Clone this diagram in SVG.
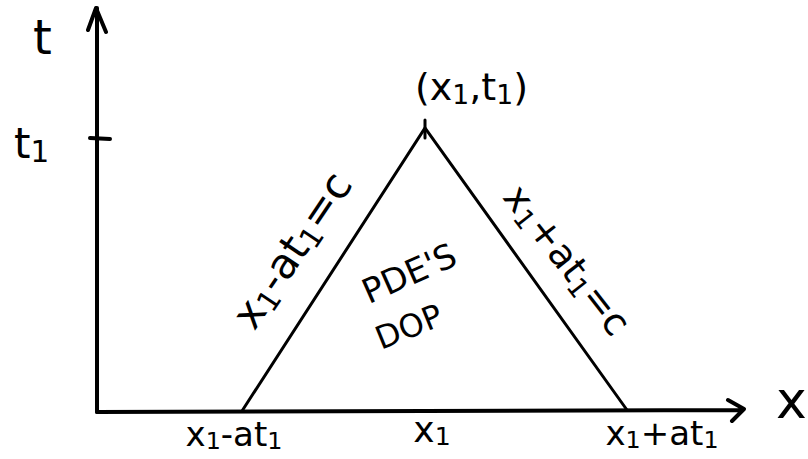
<svg xmlns="http://www.w3.org/2000/svg" width="808" height="459" viewBox="0 0 808 459">
<style>
.ax{stroke:#000;stroke-width:4;fill:none;stroke-linecap:round;stroke-linejoin:round}
.ln{stroke:#000;stroke-width:3;fill:none;stroke-linecap:round}
.tx{font-family:"DejaVu Sans","Liberation Sans",sans-serif;fill:#000}
.sub{font-size:70%}
</style>
<rect width="808" height="459" fill="#fff"/>
<g id="axes">
<path class="ax" d="M97,412 L97,8 M88,30 L96,8 L106,32"/>
<path class="ax" d="M97,412 L742,410 M728,400 L744,409 L732,421"/>
<path class="ax" d="M90,138 L110,139"/>
</g>
<g id="connectors">
<path class="ln" d="M242,411 L425,128 L627,410"/>
<path class="ln" d="M425,120 L425,138"/>
</g>
<g id="labels">
<text class="tx" x="33" y="54" font-size="48">t</text>
<text class="tx" x="14" y="158" font-size="42">t<tspan class="sub" dy="4">1</tspan></text>
<text class="tx" x="415" y="100" font-size="38">(x<tspan class="sub" dy="4">1</tspan><tspan dy="-4">,t</tspan><tspan class="sub" dy="4">1</tspan><tspan dy="-4">)</tspan></text>
<text class="tx" x="776" y="418" font-size="52">x</text>
<text class="tx" font-size="42" text-anchor="middle" transform="translate(304,258) rotate(-56)">x<tspan class="sub" dy="5">1</tspan><tspan dy="-5">-at</tspan><tspan class="sub" dy="5">1</tspan><tspan dy="-5">=c</tspan></text>
<text class="tx" font-size="38" text-anchor="middle" transform="translate(557,268) rotate(52)">x<tspan class="sub" dy="5">1</tspan><tspan dy="-5">+at</tspan><tspan class="sub" dy="5">1</tspan><tspan dy="-5">=c</tspan></text>
<text class="tx" font-size="34" text-anchor="middle" transform="translate(414,284) rotate(-24)">PDE'S</text>
<text class="tx" font-size="32" text-anchor="middle" transform="translate(413,337) rotate(-22)">DOP</text>
<text class="tx" x="234" y="446" font-size="34" text-anchor="middle">x<tspan class="sub" dy="3">1</tspan><tspan dy="-3">-at</tspan><tspan class="sub" dy="3">1</tspan></text>
<text class="tx" x="432" y="442" font-size="36" text-anchor="middle">x<tspan class="sub" dy="3">1</tspan></text>
<text class="tx" x="662" y="445" font-size="34" text-anchor="middle">x<tspan class="sub" dy="3">1</tspan><tspan dy="-3">+at</tspan><tspan class="sub" dy="3">1</tspan></text>
</g>
</svg>
